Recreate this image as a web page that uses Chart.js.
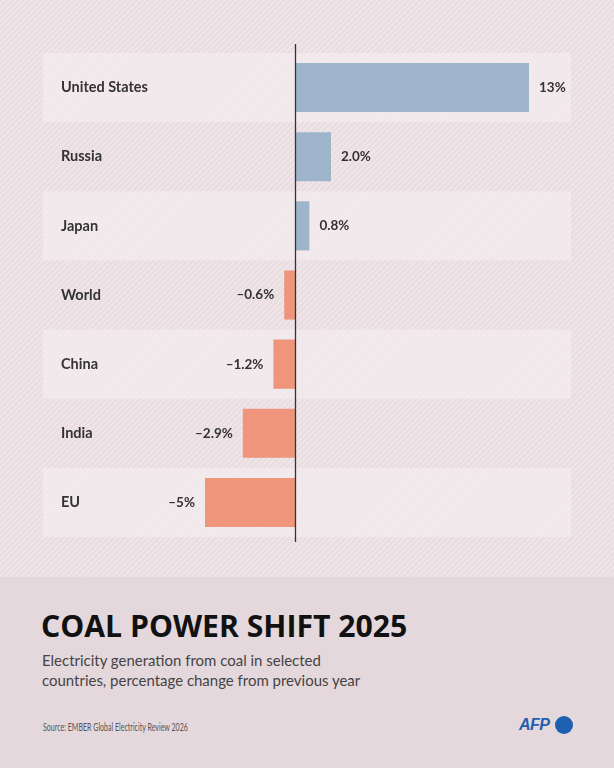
<!DOCTYPE html>
<html><head><meta charset="utf-8">
<script src="https://cdn.jsdelivr.net/npm/chart.js@4"></script>
<style>
html,body{margin:0;padding:0;}
body{width:614px;height:768px;position:relative;overflow:hidden;font-family:"Lato",sans-serif;
background:#e5d8dd;}
#top{position:absolute;left:0;top:0;width:614px;height:577px;
background:repeating-linear-gradient(135deg,#e9dde2 0px,#e9dde2 2px,#efe5e9 2px,#efe5e9 4px);}
#c{position:absolute;left:0;top:0;}
#title{position:absolute;left:41px;top:604px;font-size:31px;font-weight:700;color:#111;white-space:nowrap;font-family:"Open Sans",sans-serif;transform-origin:0 0;}
#sub{position:absolute;left:42px;top:650px;font-size:16px;line-height:20px;color:#444;white-space:nowrap;transform-origin:0 0;}
#src{position:absolute;left:43px;top:720px;font-size:11px;color:#555;white-space:nowrap;transform-origin:0 0;}
#afp{position:absolute;left:519px;top:716px;font-size:16px;font-weight:900;font-style:italic;color:#1e5fb0;font-family:"Liberation Sans",sans-serif;letter-spacing:-0.5px;}
#dot{position:absolute;left:555px;top:716px;width:18px;height:18px;border-radius:50%;background:#1e5fb0;}
</style></head><body>
<div id="top"></div>
<canvas id="c" width="614" height="577"></canvas>
<div id="title">COAL POWER SHIFT 2025</div>
<div id="sub">Electricity generation from coal in selected<br>countries, percentage change from previous year</div>
<div id="src">Source: EMBER Global Electricity Review 2026</div>
<div id="afp">AFP</div><div id="dot"></div>
<script>
const categories = ["United States","Russia","Japan","World","China","India","EU"];
const values = [13, 2.0, 0.8, -0.6, -1.2, -2.9, -5];
const valueLabels = ["13%","2.0%","0.8%","\u20130.6%","\u20131.2%","\u20132.9%","\u20135%"];

function fitWidth(id, w){
  const el=document.getElementById(id);
  el.style.transform='scaleX('+(w/el.offsetWidth)+')';
}
fitWidth('title',366);
fitWidth('sub',318);
fitWidth('src',145);

const bandPlugin = {
  id:'bands',
  beforeDatasetsDraw(chart){
    const {ctx, chartArea:a, scales:{y}} = chart;
    const step = (a.bottom - a.top)/categories.length;
    ctx.save();
    ctx.fillStyle = 'rgba(244,236,239,0.72)';
    for(let i=0;i<categories.length;i+=2){
      const cy = y.getPixelForValue(i);
      ctx.fillRect(a.left, cy-step/2, a.right-a.left, step);
    }
    ctx.restore();
  },
  afterDatasetsDraw(chart){
    const {ctx, chartArea:a, scales:{x,y}} = chart;
    const meta = chart.getDatasetMeta(0);
    ctx.save();
    ctx.fillStyle = '#333';
    ctx.textBaseline = 'middle';
    ctx.font = 'bold 14.5px "Lato"';
    ctx.textAlign='left';
    categories.forEach((c,i)=>ctx.fillText(c, a.left+18, y.getPixelForValue(i)));
    ctx.font = 'bold 13.5px "Lato"';
    meta.data.forEach((bar,i)=>{
      const v = values[i];
      if(v>=0){ctx.textAlign='left'; ctx.fillText(valueLabels[i], bar.x+10, bar.y);}
      else {ctx.textAlign='right'; ctx.fillText(valueLabels[i], bar.x-10, bar.y);}
    });
    const x0 = Math.round(x.getPixelForValue(0))+0.5;
    ctx.strokeStyle='#333'; ctx.lineWidth=1.3;
    ctx.beginPath(); ctx.moveTo(x0, y.top-9); ctx.lineTo(x0, y.bottom+5); ctx.stroke();
    ctx.restore();
  }
};

new Chart(document.getElementById('c'), {
  type:'bar',
  data:{labels:categories, datasets:[{data:values,
    backgroundColor: values.map(v=>v>=0?'#9db4ca':'#ee957b'),
    barPercentage:0.71, categoryPercentage:1}]},
  options:{
    indexAxis:'y', responsive:false, animation:false,
    layout:{padding:{left:43,right:43,top:53,bottom:40}},
    plugins:{legend:{display:false},tooltip:{enabled:false}},
    scales:{
      x:{min:-14,max:15.333,display:false,grid:{display:false}},
      y:{display:false,grid:{display:false}}
    }
  },
  plugins:[bandPlugin]
});
</script>
</body></html>
